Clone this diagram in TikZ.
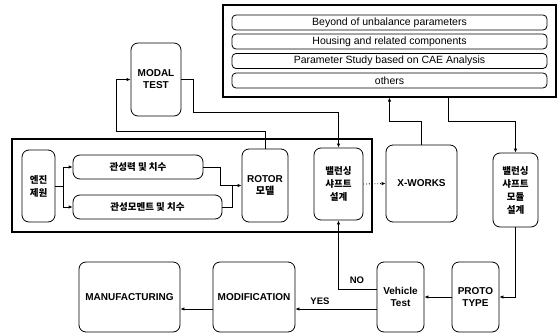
\documentclass[tikz,border=0pt]{standalone}
\usepackage{fontspec}
\setmainfont{Liberation Sans}
\newfontfamily\kr{Noto Sans CJK KR}
\usetikzlibrary{arrows.meta}
\begin{document}
\begin{tikzpicture}[x=1pt,y=-1pt,
  line width=0.8pt,
  box/.style={draw,rounded corners=7pt,inner sep=0pt,align=center,font=\bfseries\fontsize{10}{12}\selectfont},
  krbox/.style={box,font=\kr\bfseries\fontsize{9.5}{13}\selectfont},
  frame/.style={draw,line width=1.1pt,inner sep=0pt},
  row/.style={draw,rounded corners=4pt,inner sep=0pt,minimum width=315pt,minimum height=15pt,font=\fontsize{10.5}{11}\selectfont},
  arr/.style={-{Latex[length=4pt,width=3.5pt]}},
  lbl/.style={font=\bfseries\fontsize{9.5}{10}\selectfont,inner sep=1pt}]
\useasboundingbox (0,0) rectangle (560,335);
% top-right parameter box
\node[frame,minimum width=333pt,minimum height=92pt] (params) at (389.5,51) {};
\node[row] (r1) at (389.5,22.5) {Beyond of unbalance parameters};
\node[row] (r2) at (389.5,41.5) {Housing and related components};
\node[row] (r3) at (389.5,61) {Parameter Study based on CAE Analysis};
\node[row] (r4) at (389.5,80.5) {others};
% modal test
\node[box,minimum width=50pt,minimum height=73pt] (modal) at (156,79.5) {MODAL\\TEST};
% big left frame
\node[frame,minimum width=360pt,minimum height=93pt] (left) at (192,185.5) {};
\node[krbox,minimum width=33pt,minimum height=72pt] (eng) at (38.5,186) {엔진\\제원};
\node[krbox,minimum width=130pt,minimum height=24pt] (gwl) at (138,167) {관성력 및 치수};
\node[krbox,minimum width=149pt,minimum height=24pt] (gm) at (147.5,207) {관성모멘트 및 치수};
\node[box,minimum width=46pt,minimum height=73pt] (rotor) at (265,185.5) {ROTOR\\{\kr 모델}};
\node[krbox,minimum width=49pt,minimum height=72pt] (bal) at (338.5,184) {밸런싱\\샤프트\\설계};
% right column
\node[box,minimum width=71pt,minimum height=77pt] (xw) at (421.5,183.5) {X-WORKS};
\node[krbox,minimum width=45pt,minimum height=74pt] (mod) at (515.5,190) {밸런싱\\샤프트\\모듈\\설계};
% bottom row
\node[box,minimum width=47pt,minimum height=70pt] (proto) at (475.5,297) {PROTO\\TYPE};
\node[box,minimum width=47pt,minimum height=70pt] (vt) at (400.5,297) {Vehicle\\Test};
\node[box,minimum width=82pt,minimum height=70pt] (modi) at (254,297) {MODIFICATION};
\node[box,minimum width=101pt,minimum height=70pt] (manu) at (129.5,297) {MANUFACTURING};
% labels
\node[lbl] (no) at (357,280) {NO};
\node[lbl] (yes) at (320,301) {YES};
% connectors
\draw[arr] (eng.east) -- ++(8,0) |- (gwl.west);
\draw[arr] (eng.east) -- ++(8,0) |- (gm.west);
\draw[arr] (gwl.east) -- ++(17,0) |- (rotor.west);
\draw (gm.east) -- ++(10,0) |- ([xshift=-8pt]rotor.west);
\draw[arr] (rotor.north) -- ++(0,-17) -| ([xshift=-14pt]modal.west) -- (modal.west);
\draw[arr] (modal.east) -- ++(12,0) -- ++(0,32.5) -| (bal.north);
\draw[arr,dotted] (bal.east) -- (xw.west);
\draw[arr] (xw.north) -- ++(0,-23) -| (params.south);
\draw[arr] ([xshift=58.5pt]params.south) -- ++(0,24) -| (mod.north);
\draw[arr] (mod.south) |- (proto.east);
\draw[arr] (proto.west) -- (vt.east);
\draw[arr] ([yshift=8pt]vt.west) -| (bal.south);
\draw[arr] ([yshift=-12pt]vt.west) -- ([yshift=-12pt]modi.east);
\draw[arr] ([yshift=-12pt]modi.west) -- ([yshift=-12pt]manu.east);
\end{tikzpicture}
\end{document}
